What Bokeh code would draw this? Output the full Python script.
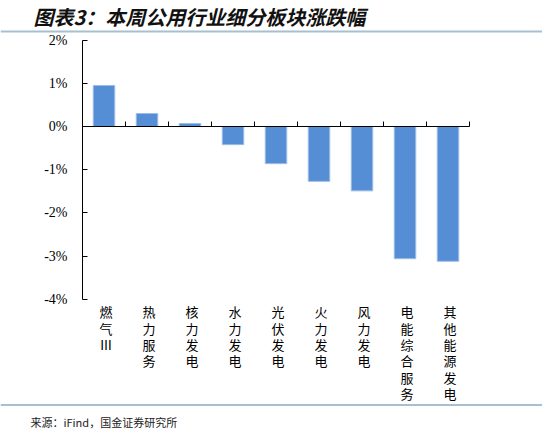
from bokeh.plotting import figure
from bokeh.models import Range1d, FixedTicker
from bokeh.core.properties import value
from bokeh.embed import file_html
from bokeh.resources import INLINE

# 本周公用行业细分板块涨跌幅（%）
categories = ["燃气Ⅲ", "热力服务", "核力发电", "水力发电", "光伏发电",
              "火力发电", "风力发电", "电能综合服务", "其他能源发电"]
changes = [0.95, 0.30, 0.07, -0.42, -0.86, -1.27, -1.49, -3.06, -3.12]
y_ticks = [-4, -3, -2, -1, 0, 1, 2]
y_tick_labels = ["-4%", "-3%", "-2%", "-1%", "0%", "1%", "2%"]

title_text = "图表3：本周公用行业细分板块涨跌幅"
source_text = "来源：iFind，国金证券研究所"

# page geometry (pixels)
W, H = 542, 430
axis_x = 82       # where the value axis sits
cat_w = 43        # width of one category
zero_y = 126      # where 0% sits, from the top
pct = 43.2        # pixels per 1%
rule = "#a7bfd0"
rules_y = [30, 403.5]   # top edge of the two rules, from the top

n = len(categories)
centers = [i + 0.5 for i in range(n)]


def top(y):
    # pixel distance from the top -> "px" range value
    return H - y


p = figure(width=W, height=H, output_backend="svg", toolbar_location=None,
           x_range=Range1d(-axis_x / cat_w, (W - axis_x) / cat_w),
           y_range=Range1d(-(H - zero_y) / pct, zero_y / pct),
           min_border=0)
p.outline_line_color = None
p.grid.visible = False
# pixel ranges for the title, rules and source line
p.extra_x_ranges = {"px": Range1d(0, W)}
p.extra_y_ranges = {"px": Range1d(0, H)}

p.vbar(x=centers, top=changes, bottom=0, width=0.5,
       fill_color="#558ed5", line_color="#9dbde6", line_width=1)

# value axis
ya = p.yaxis[0]
ya.fixed_location = 0
ya.bounds = (y_ticks[0], y_ticks[-1])
ya.ticker = FixedTicker(ticks=y_ticks)
ya.major_label_overrides = {t: "" for t in y_ticks}
ya.major_label_text_font_size = "0px"
ya.major_label_standoff = 0
ya.major_tick_in = 5
ya.major_tick_out = 0
ya.minor_tick_line_color = None
ya.axis_line_color = "black"
ya.major_tick_line_color = "black"

p.text(x=[-15 / cat_w] * len(y_ticks), y=y_ticks, text=y_tick_labels,
       text_font=value("Liberation Serif"), text_font_size="14px",
       text_color="black", text_align="right", text_baseline="middle")

# zero line with category separators
za = p.xaxis[0]
za.fixed_location = 0
za.bounds = (0, n)
za.ticker = FixedTicker(ticks=list(range(n + 1)))
za.major_label_overrides = {i: "" for i in range(n + 1)}
za.major_label_text_font_size = "0px"
za.major_label_standoff = 0
za.major_tick_in = 5
za.major_tick_out = 0
za.minor_tick_line_color = None
za.axis_line_color = "black"
za.major_tick_line_color = "black"

# category labels, one character per line
p.text(x=centers, y=[y_ticks[0]] * n, text=["\n".join(c) for c in categories],
       x_offset=2, y_offset=3, text_font=value("Noto Sans CJK SC"), text_font_size="13px",
       text_line_height=0.86, text_color="black",
       text_align="center", text_baseline="top")

# title, rules and source
p.text(x=[33], y=[top(15.5)], text=[title_text], x_range_name="px", y_range_name="px",
       text_font=value("Noto Sans CJK SC"), text_font_size="20px",
       text_font_style="bold italic", text_color="#111111", text_baseline="middle")
p.quad(left=[0, 0], right=[W, W], top=[top(y) for y in rules_y],
       bottom=[top(y + 2) for y in rules_y],
       x_range_name="px", y_range_name="px", fill_color=rule, line_color=None)
p.text(x=[30], y=[top(421.5)], text=[source_text], x_range_name="px", y_range_name="px",
       text_font=value("Noto Sans CJK SC"), text_font_size="11px",
       text_color="#222222", text_baseline="middle")

open("out.html", "w").write(file_html(p, INLINE))
